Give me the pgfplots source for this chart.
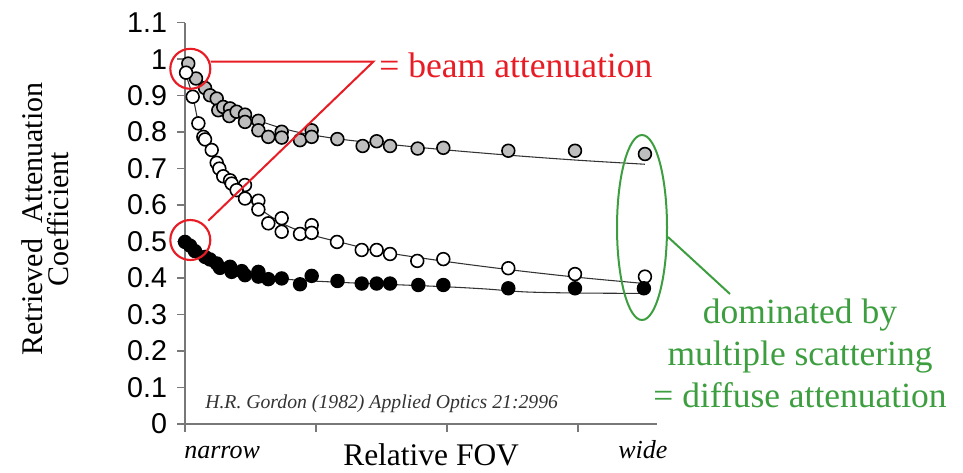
\documentclass[border=0pt]{standalone}
\usepackage{pgfplots}
\pgfplotsset{compat=1.18}
\usepackage{pgfplotstable}
\usepackage{fontspec}
\setmainfont{Liberation Serif}
\newfontfamily\arial{Liberation Sans}
\definecolor{annred}{RGB}{232,28,36}
\definecolor{anngreen}{RGB}{61,158,64}
\definecolor{ptgray}{RGB}{190,190,190}
\definecolor{axgray}{RGB}{120,120,120}

\pgfplotstableread{
x y
0.025 0.988
0.084 0.947
0.153 0.921
0.191 0.901
0.242 0.892
0.254 0.860
0.292 0.869
0.344 0.865
0.338 0.844
0.394 0.856
0.458 0.848
0.458 0.828
0.560 0.831
0.560 0.805
0.636 0.787
0.738 0.801
0.738 0.785
0.878 0.778
0.967 0.805
0.967 0.787
1.163 0.781
1.356 0.762
1.463 0.775
1.565 0.762
1.776 0.755
1.972 0.757
2.468 0.749
2.977 0.749
3.511 0.740
}\graydata

\pgfplotstableread{
x y
0.008 0.963
0.059 0.897
0.102 0.824
0.140 0.787
0.153 0.780
0.204 0.751
0.242 0.716
0.262 0.700
0.292 0.679
0.344 0.668
0.356 0.659
0.458 0.655
0.394 0.641
0.458 0.618
0.560 0.612
0.560 0.588
0.636 0.550
0.738 0.564
0.738 0.527
0.878 0.521
0.967 0.545
0.967 0.524
1.160 0.499
1.349 0.477
1.463 0.477
1.565 0.466
1.773 0.447
1.972 0.452
2.468 0.427
2.977 0.411
3.511 0.404
}\whitedata

\pgfplotstableread{
x y
0.000 0.499
0.038 0.489
0.076 0.474
0.153 0.458
0.191 0.451
0.242 0.440
0.267 0.428
0.344 0.431
0.356 0.417
0.433 0.419
0.458 0.408
0.560 0.417
0.560 0.404
0.636 0.397
0.738 0.399
0.878 0.383
0.967 0.406
1.164 0.392
1.349 0.385
1.463 0.385
1.565 0.385
1.781 0.381
1.972 0.381
2.468 0.372
2.977 0.372
3.503 0.372
}\blackdata

\begin{document}
\begin{tikzpicture}
\useasboundingbox (0,0) rectangle (722.25pt,-354pt);
\begin{axis}[
  at={(138.75pt,-318pt)}, anchor=south west,
  scale only axis, width=354pt, height=301pt,
  xmin=0, xmax=3.603, ymin=0, ymax=1.1,
  axis lines=left,
  axis line style={-, axgray, line width=1.1pt},
  tick style={axgray, line width=1.1pt},
  tick align=outside,
  major tick length=6pt,
  xtick={0,1,2,3}, xticklabels={},
  ytick={0,0.1,0.2,0.3,0.4,0.5,0.6,0.7,0.8,0.9,1,1.1},
  yticklabel style={font=\arial\fontsize{21.5}{25}\selectfont, xshift=-4pt},
  /pgf/number format/assume math mode=true,
  clip=false,
]
% fitted curves
\addplot[smooth, draw=black!80, line width=0.8pt] coordinates {
(0,0.99)(0.1,0.935)(0.2,0.9)(0.35,0.865)(0.5,0.84)(0.7,0.815)(0.9,0.797)(1.2,0.78)(1.6,0.765)(2.0,0.751)(2.5,0.736)(3.0,0.723)(3.51,0.712)};
\addplot[smooth, draw=black!80, line width=0.8pt] coordinates {
(0.0,0.965)(0.06,0.897)(0.1,0.83)(0.15,0.785)(0.2,0.75)(0.3,0.69)(0.4,0.645)(0.5,0.61)(0.65,0.57)(0.8,0.54)(1.0,0.515)(1.2,0.497)(1.5,0.472)(2.0,0.445)(2.5,0.422)(3.0,0.402)(3.51,0.385)};
\addplot[smooth, draw=black!80, line width=0.8pt] coordinates {
(0,0.5)(0.1,0.468)(0.2,0.447)(0.35,0.425)(0.5,0.41)(0.8,0.396)(1.2,0.388)(1.6,0.382)(2.0,0.376)(2.3,0.37)(2.6,0.362)(3.0,0.359)(3.51,0.358)};
% data
\addplot[only marks, mark=*, mark size=4.8pt, mark options={draw=black, fill=ptgray, line width=1.2pt}] table[x=x,y=y] {\graydata};
\addplot[only marks, mark=*, mark size=4.8pt, mark options={draw=black, fill=white, line width=1.2pt}] table[x=x,y=y] {\whitedata};
\addplot[only marks, mark=*, mark size=4.8pt, mark options={draw=black, fill=black, line width=1.2pt}] table[x=x,y=y] {\blackdata};
\end{axis}
\begin{scope}[x=0.75pt,y=-0.75pt]
% y label
\node[rotate=90, align=center, font=\fontsize{22.5}{19.5}\selectfont, inner sep=0pt] at (45,219) {Retrieved\ \ Attenuation\\Coefficient};
% x labels
\node[anchor=base west, inner sep=0pt, font=\fontsize{23.6}{28}\selectfont] at (343,465) {Relative FOV};
\node[anchor=base west, inner sep=0pt, font=\fontsize{19.5}{24}\selectfont\itshape] at (184,458) {narrow};
\node[anchor=base west, inner sep=0pt, font=\fontsize{19.5}{24}\selectfont\itshape] at (618,458) {wide};
% citation
\node[anchor=base west, inner sep=0pt, font=\fontsize{14.8}{18}\selectfont\itshape, text=black!80] at (205,408) {H.R. Gordon (1982) Applied Optics 21:2996};
% red annotation
\draw[annred, line width=1.6pt] (190.3,68.8) circle[radius=20];
\draw[annred, line width=1.6pt] (190.3,240) circle[radius=20];
\draw[annred, line width=1.5pt] (210.7,61.7) -- (373.3,61.7) -- (208.3,220.7);
\node[anchor=base west, inner sep=0pt, text=annred, font=\fontsize{26.7}{32}\selectfont] at (379,77) {= beam attenuation};
% green annotation
\draw[anngreen, line width=1.5pt] (642,227.5) ellipse[x radius=25, y radius=92.5];
\draw[anngreen, line width=1.5pt] (668,237) -- (730,294);
\node[anchor=base, inner sep=0pt, text=anngreen, font=\fontsize{26.6}{32}\selectfont] at (800,323) {dominated by};
\node[anchor=base, inner sep=0pt, text=anngreen, font=\fontsize{26.6}{32}\selectfont] at (800,365) {multiple scattering};
\node[anchor=base, inner sep=0pt, text=anngreen, font=\fontsize{26.6}{32}\selectfont] at (800,407) {= diffuse attenuation};
\end{scope}
\end{tikzpicture}
\end{document}
